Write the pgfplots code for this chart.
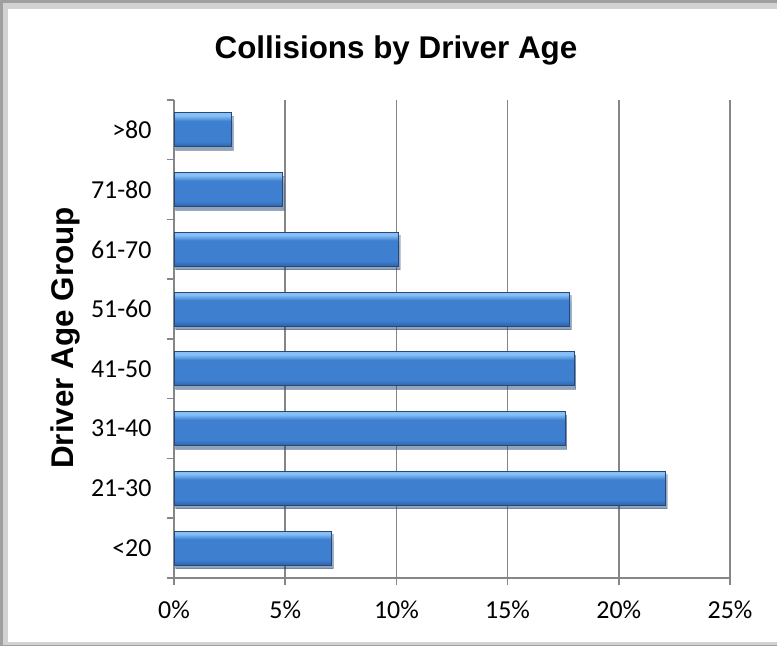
\documentclass[border=0pt]{standalone}
\usepackage{pgfplots}
\pgfplotsset{compat=1.18}
\usepackage{fontspec}
\setmainfont{Carlito}
\newfontfamily\arial{Liberation Sans}
\usetikzlibrary{shadows}

\definecolor{barmid}{RGB}{62,127,207}
\definecolor{bartop}{RGB}{135,192,246}
\definecolor{barbot}{RGB}{44,98,172}
\definecolor{barline}{RGB}{40,72,120}
\definecolor{gridgray}{RGB}{134,134,134}

% light stripe at the top, flat body, darker band at the bottom
\pgfdeclareverticalshading{barshade}{100bp}{color(0bp)=(barbot); color(25bp)=(barbot);
  color(33bp)=(barmid); color(63bp)=(barmid); color(71bp)=(bartop);
  color(75bp)=(bartop); color(100bp)=(bartop)}

\pgfplotsset{mybar/.style={draw=barline, line width=1bp, shading=barshade,
    drop shadow={shadow xshift=1.5bp, shadow yshift=-3.5bp, fill=black, opacity=0.28}}}

\begin{document}
\begin{tikzpicture}[x=1bp,y=1bp]
\useasboundingbox (0,0) rectangle (777,646);
% frame
\fill[gray!75] (0,0) rectangle (777,646);
\fill[gray!35] (3,1) rectangle (777,643);
\fill[white] (8,4) rectangle (777,637);

\node[anchor=base, font=\arial\bfseries\fontsize{31.5}{36}\selectfont]
  at (396,587) {Collisions by Driver Age};
\node[anchor=base, rotate=90, font=\arial\bfseries\fontsize{31.5}{36}\selectfont]
  at (73,308) {Driver Age Group};

\begin{axis}[
    at={(174bp,68bp)}, anchor=south west,
    scale only axis, width=556bp, height=478bp,
    xbar, bar width=34bp, bar shift=0pt,
    xmin=0, xmax=25, ymin=-0.5, ymax=7.5,
    axis x line*=bottom, axis y line*=left,
    axis line style={gridgray, line width=1.5bp, -},
    xmajorgrids, grid style={gridgray, line width=1.5bp},
    tick align=outside, major tick length=7bp,
    tick style={gridgray, line width=1.5bp},
    xtick={0,5,...,25},
    xticklabel={\pgfmathprintnumber[assume math mode=true]{\tick}\%},
    ytick={-0.5,0.5,...,7.5},
    yticklabels={<20,21-30,31-40,41-50,51-60,61-70,71-80,>80,{}},
    yticklabel style={yshift=29.875bp, xshift=-12bp},
    xticklabel style={yshift=-12bp},
    tick label style={font=\fontsize{26}{30}\selectfont},
]
% one plot per bar so that each bar gets its own shading
\addplot[mybar] coordinates {(7.1,0)};
\addplot[mybar] coordinates {(22.1,1)};
\addplot[mybar] coordinates {(17.6,2)};
\addplot[mybar] coordinates {(18.0,3)};
\addplot[mybar] coordinates {(17.8,4)};
\addplot[mybar] coordinates {(10.1,5)};
\addplot[mybar] coordinates {(4.9,6)};
\addplot[mybar] coordinates {(2.6,7)};
\end{axis}
\end{tikzpicture}
\end{document}
